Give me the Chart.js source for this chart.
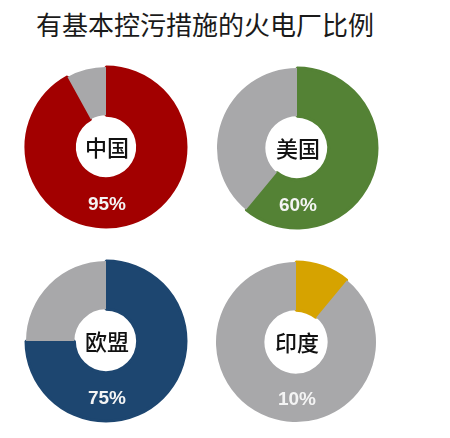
<!DOCTYPE html>
<html lang="zh">
<head>
    <meta charset="UTF-8">
    <title>有基本控污措施的火电厂比例</title>
    <script src="https://cdn.jsdelivr.net/npm/chart.js"></script>
</head>
<style>
body {
    margin: 0;
    background: #ffffff;
    width: 450px;
    height: 438px;
    position: relative;
    overflow: hidden;
}

.title {
    position: absolute;
    left: 36px;
    top: 6px;
    font-family: "Noto Sans CJK SC", sans-serif;
    font-size: 26px;
    line-height: 36px;
    color: #1a1a1a;
    white-space: nowrap;
}

canvas {
    position: absolute;
}
</style>
<body>
    <div class="title">有基本控污措施的火电厂比例</div>
    <canvas id="c0" width="180" height="180"></canvas>
    <canvas id="c1" width="180" height="180"></canvas>
    <canvas id="c2" width="180" height="180"></canvas>
    <canvas id="c3" width="180" height="180"></canvas>
    <script>
// countries, the share as written, and the share as drawn in the picture
const countries = ['中国', '美国', '欧盟', '印度'];
const pctLabels = ['95%', '60%', '75%', '10%'];
const shares = [92, 61, 75, 11];
const colors = ['#a20000', '#548235', '#1d4670', '#d6a300'];
const restColor = '#a8a8aa';

// where each ring sits on the page (centre)
const centers = [[106, 147], [297, 148], [106, 341], [296, 342]];

const ringLabels = {
    id: 'ringLabels',
    afterDraw(chart, args, opts) {
        const ctx = chart.ctx;
        const arc = chart.getDatasetMeta(0).data[0];
        const x = arc.x, y = arc.y;
        ctx.save();
        ctx.textAlign = 'center';
        ctx.textBaseline = 'middle';
        ctx.fillStyle = '#111';
        ctx.font = '500 22px "Noto Sans CJK SC"';
        ctx.fillText(opts.name, x + 1, y + 1);
        ctx.fillStyle = '#f4f4f4';
        ctx.font = 'bold 19px "Liberation Sans", Arial, sans-serif';
        ctx.fillText(opts.pct, x + 1, y + 58);
        ctx.restore();
    }
};

countries.forEach((name, i) => {
    const cv = document.getElementById('c' + i);
    cv.style.left = (centers[i][0] - 90) + 'px';
    cv.style.top = (centers[i][1] - 90) + 'px';
    new Chart(cv.getContext('2d'), {
        type: 'doughnut',
        data: {
            labels: [name, ''],
            datasets: [{
                data: [shares[i], 100 - shares[i]],
                backgroundColor: [colors[i], restColor],
                borderColor: [colors[i], restColor],
                borderWidth: [3, 0],
                hoverOffset: 0
            }]
        },
        options: {
            responsive: false,
            animation: false,
            radius: 80,
            cutout: 35,
            layout: { padding: 0 },
            plugins: {
                legend: { display: false },
                tooltip: { enabled: false },
                ringLabels: { name: name, pct: pctLabels[i] }
            }
        },
        plugins: [ringLabels]
    });
});
    </script>
</body>
</html>
